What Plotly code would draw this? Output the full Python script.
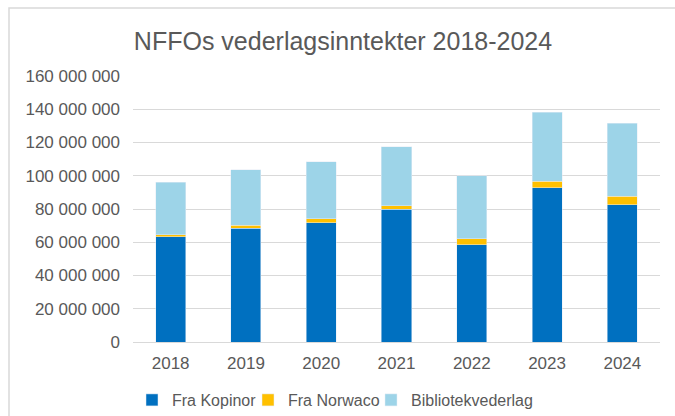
import plotly.graph_objects as go

years = ["2018", "2019", "2020", "2021", "2022", "2023", "2024"]
fra_kopinor = [63_200_000, 68_400_000, 71_800_000, 80_000_000, 58_400_000, 92_800_000, 82_600_000]
fra_norwaco = [1_400_000, 1_800_000, 2_200_000, 2_100_000, 3_600_000, 3_800_000, 5_000_000]
bibliotekvederlag = [31_400_000, 33_400_000, 34_400_000, 35_400_000, 38_000_000, 41_600_000, 43_900_000]

grey_txt = "#595959"
grid = "#D9D9D9"

W, H = 675, 416
L, R, T, B = 133, 15, 76, 74
PW, PH = W - L - R, H - T - B

fig = go.Figure()
fig.add_trace(go.Bar(x=years, y=fra_kopinor, name="Fra Kopinor", marker_color="#0070C0", legendwidth=71))
fig.add_trace(go.Bar(x=years, y=fra_norwaco, name="Fra Norwaco", marker_color="#FFC000", legendwidth=78))
fig.add_trace(go.Bar(x=years, y=bibliotekvederlag, name="Bibliotekvederlag", marker_color="#9DD4E8", legendwidth=122))

fig.update_layout(
    barmode="stack",
    bargap=0.6,
    width=W, height=H,
    margin=dict(l=L, r=R, t=T, b=B, autoexpand=False),
    plot_bgcolor="white", paper_bgcolor="white",
    separators=", ",
    font=dict(family="Liberation Sans", size=17, color=grey_txt),
    title=dict(text="NFFOs vederlagsinntekter 2018-2024",
               font=dict(family="Liberation Sans", size=25, color=grey_txt),
               x=343 / W, xref="container", xanchor="center",
               y=1 - 41 / H, yref="container", yanchor="middle"),
    legend=dict(orientation="h", xref="container", x=132 / W, xanchor="left",
                yref="container", y=1 - 400 / H, yanchor="middle",
                font=dict(size=16, color=grey_txt), traceorder="normal", itemwidth=30),
    showlegend=True,
)
fig.update_yaxes(range=[0, 160_000_000], dtick=20_000_000, tickformat=",d",
                 showgrid=True, gridcolor=grid, gridwidth=1, zeroline=False,
                 ticklabelstandoff=12)
fig.update_xaxes(showline=True, linecolor=grid, linewidth=1, ticks="",
                 ticklabelstandoff=6)

# light frame around the chart area: only the left and top edges are in view
fx0 = (9 - L) / PW
fy1 = (PH + T - 8) / PH
fig.add_shape(type="path", xref="paper", yref="paper",
              path=f"M {fx0},-1 L {fx0},{fy1} L 2,{fy1}",
              line=dict(color=grid, width=1.5), layer="below")

# no page margin / scrollbars, so the figure sits flush in the window
fig.write_html("out.html", config={"displayModeBar": False},
               post_script="document.body.style.margin='0';document.body.style.overflow='hidden';"
                           "document.documentElement.style.overflow='hidden';")
